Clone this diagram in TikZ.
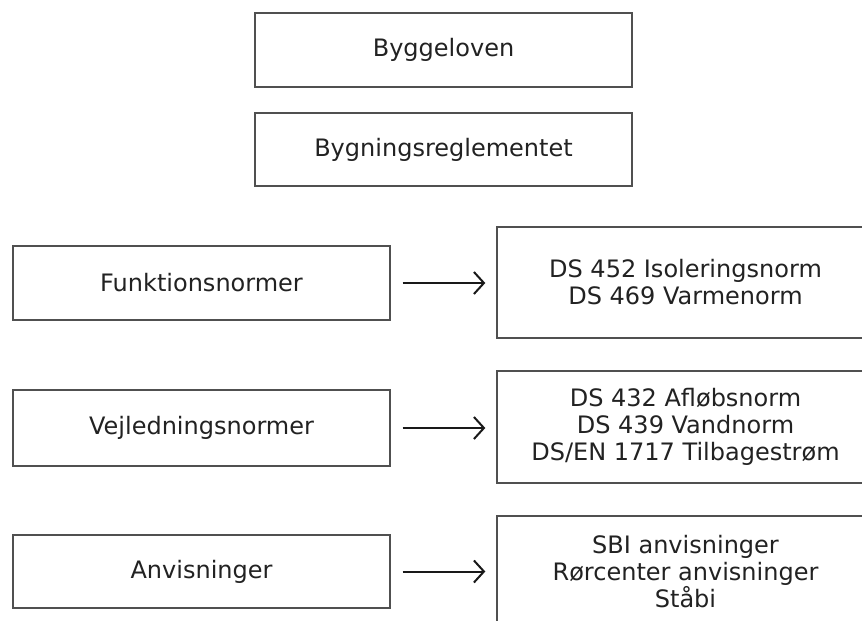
\documentclass[tikz,border=0pt]{standalone}
\usepackage{fontspec}
\setmainfont{DejaVu Sans}
\usetikzlibrary{arrows.meta}
\definecolor{boxline}{HTML}{505050}
\definecolor{txt}{HTML}{222222}
\tikzset{
  box/.style={draw=boxline, line width=1.4pt, minimum width=377pt, inner sep=0pt,
    align=center, text=txt, font=\fontsize{24}{27}\selectfont},
  arr/.style={draw=black!90, line width=2pt, -{Straight Barb[length=10pt,width=22pt,line width=2pt]},
    shorten <=12pt, shorten >=11pt}
}
\begin{document}
\begin{tikzpicture}[x=1pt,y=-1pt]
\path[use as bounding box, clip] (0,0) rectangle (862,621);
\fill[white] (0,0) rectangle (862,621);
\node[box, minimum height=74pt] (law) at (443.5,50) {Byggeloven};
\node[box, minimum height=73pt] (reg) at (443.5,149.5) {Bygningsreglementet};
\node[box, minimum height=74pt] (fn) at (201.5,283) {Funktionsnormer};
\node[box, minimum height=111pt] (fnr) at (685.5,282.5) {DS 452 Isoleringsnorm\\DS 469 Varmenorm};
\node[box, minimum height=76pt] (vn) at (201.5,428) {Vejledningsnormer};
\node[box, minimum height=112pt] (vnr) at (685.5,427) {DS 432 Afløbsnorm\\DS 439 Vandnorm\\DS/EN 1717 Tilbagestrøm};
\node[box, minimum height=73pt] (an) at (201.5,571.5) {Anvisninger};
\node[box, minimum height=112pt] (anr) at (685.5,572) {SBI anvisninger\\Rørcenter anvisninger\\Ståbi};
\draw[arr] (fn.east) -- (fn.east -| fnr.west);
\draw[arr] (vn.east) -- (vn.east -| vnr.west);
\draw[arr] (an.east) -- (an.east -| anr.west);
\end{tikzpicture}
\end{document}
